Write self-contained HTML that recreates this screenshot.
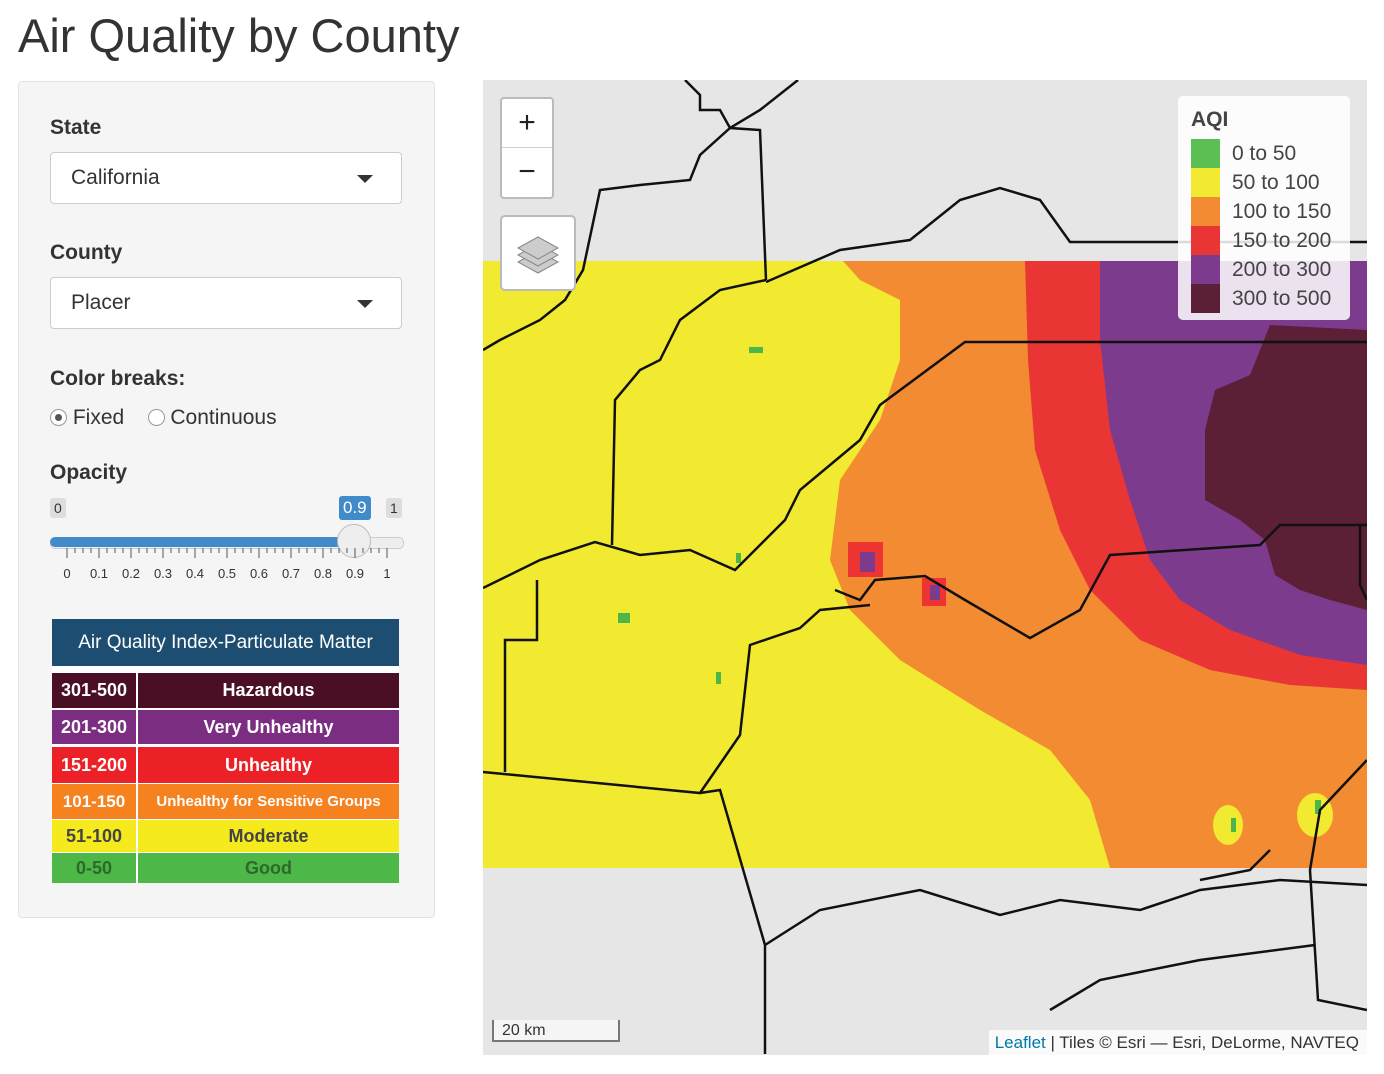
<!DOCTYPE html>
<html><head><meta charset="utf-8"><style>
body{margin:0;width:1384px;height:1074px;background:#fff;font-family:"Liberation Sans",sans-serif;position:relative;overflow:hidden}
h1{position:absolute;left:18px;top:8px;margin:0;font-weight:normal;font-size:47px;color:#333}
.panel{position:absolute;left:18px;top:81px;width:415px;height:835px;background:#f5f5f5;border:1px solid #e3e3e3;border-radius:4px}
.lbl{position:absolute;left:31px;font-size:21px;font-weight:bold;color:#333}
.sel{position:absolute;left:31px;width:350px;height:50px;background:#fff;border:1px solid #ccc;border-radius:4px;font-size:21px;color:#333;line-height:50px;text-indent:20px}
.sel:after{content:"";position:absolute;right:28px;top:22px;border-left:8px solid transparent;border-right:8px solid transparent;border-top:8px solid #333}
.tbl{position:absolute;left:33px;width:347px;color:#fff;font-weight:bold;font-size:18px}
.row{position:absolute;left:0;width:347px;display:flex}
.row div:first-child{width:84px;text-align:center;border-right:2px solid #fff}
.row div:last-child{flex:1;text-align:center}
.map{position:absolute;left:483px;top:80px;width:884px;height:975px;background:#e6e6e6;overflow:hidden}
</style></head><body>
<h1>Air Quality by County</h1>
<div class="panel">
<div class="lbl" style="top:34px">State</div>
<div class="sel" style="top:70px">California</div>
<div class="lbl" style="top:159px">County</div>
<div class="sel" style="top:195px">Placer</div>
<div class="lbl" style="top:285px">Color breaks:</div>
<div style="position:absolute;left:31px;top:324px;font-size:21px;color:#333">
<span style="display:inline-block;width:15px;height:15px;border:1px solid #999;border-radius:50%;background:#fff;vertical-align:-2px;position:relative"><span style="position:absolute;left:4px;top:4px;width:7px;height:7px;border-radius:50%;background:#555"></span></span> Fixed &nbsp;&nbsp;
<span style="display:inline-block;width:15px;height:15px;border:1px solid #999;border-radius:50%;background:#fff;vertical-align:-2px"></span> Continuous</div>
<div class="lbl" style="top:379px">Opacity</div>
<div style="position:absolute;left:31px;top:416px;background:#ddd;color:#333;font-size:14px;padding:2px 4px;border-radius:3px">0</div>
<div style="position:absolute;left:320px;top:414px;background:#428bca;color:#fff;font-size:17px;padding:2px 4px;border-radius:3px">0.9</div>
<div style="position:absolute;left:367px;top:416px;background:#ddd;color:#333;font-size:14px;padding:2px 4px;border-radius:3px">1</div>
<div style="position:absolute;left:31px;top:455px;width:352px;height:10px;border-radius:5px;background:#eee;border:1px solid #ccc"></div>
<div style="position:absolute;left:31px;top:455px;width:305px;height:10px;border-radius:5px;background:#428bca"></div>
<div style="position:absolute;left:318px;top:442px;width:32px;height:32px;border-radius:50%;background:#eee;border:1px solid #bbb"></div>
<svg style="position:absolute;left:31px;top:466px" width="360" height="40">
<g stroke="#555" stroke-width="1">
<path d="M17 0v10M49 0v10M81 0v10M113 0v10M145 0v10M177 0v10M209 0v10M241 0v10M273 0v10M305 0v10M337 0v10"/>
<path d="M25 0v5M33 0v5M41 0v5M57 0v5M65 0v5M73 0v5M89 0v5M97 0v5M105 0v5M121 0v5M129 0v5M137 0v5M153 0v5M161 0v5M169 0v5M185 0v5M193 0v5M201 0v5M217 0v5M225 0v5M233 0v5M249 0v5M257 0v5M265 0v5M281 0v5M289 0v5M297 0v5M313 0v5M321 0v5M329 0v5"/></g>
<g font-size="13" fill="#333" text-anchor="middle"><text x="17" y="30">0</text><text x="49" y="30">0.1</text><text x="81" y="30">0.2</text><text x="113" y="30">0.3</text><text x="145" y="30">0.4</text><text x="177" y="30">0.5</text><text x="209" y="30">0.6</text><text x="241" y="30">0.7</text><text x="273" y="30">0.8</text><text x="305" y="30">0.9</text><text x="337" y="30">1</text></g></svg>
<div class="tbl" style="top:537px;height:264px;background:#fff">
<div style="position:absolute;left:0;top:0;width:347px;height:47px;background:#1d4e72;line-height:47px;text-align:center;font-size:19px;font-weight:normal">Air Quality Index-Particulate Matter</div>
<div class="row" style="top:54px;height:35px;line-height:35px;background:#4a0f24"><div>301-500</div><div>Hazardous</div></div>
<div class="row" style="top:91px;height:34px;line-height:34px;background:#7b2d82"><div>201-300</div><div>Very Unhealthy</div></div>
<div class="row" style="top:128px;height:36px;line-height:36px;background:#ec2127"><div>151-200</div><div>Unhealthy</div></div>
<div class="row" style="top:165px;height:35px;line-height:35px;background:#f5821f;font-size:15px"><div style="font-size:17px">101-150</div><div>Unhealthy for Sensitive Groups</div></div>
<div class="row" style="top:201px;height:32px;line-height:32px;background:#f4ea1e;color:#444"><div>51-100</div><div>Moderate</div></div>
<div class="row" style="top:234px;height:30px;line-height:30px;background:#4db748;color:#2d6a2a"><div>0-50</div><div>Good</div></div>
</div>
</div>
<div class="map">
<svg width="884" height="975" style="position:absolute;left:0;top:0">
<g transform="translate(-483,-80)">
<rect x="483" y="261" width="884" height="607" fill="#f2e931"/>
<path d="M843 261 L1367 261 L1367 868 L1110 868 L1090 800 L1050 750 L980 710 L900 660 L850 610 L830 560 L840 480 L880 420 L900 360 L900 300 L860 280 Z" fill="#f38b32"/>
<path d="M1025 261 L1367 261 L1367 690 L1290 685 L1210 670 L1140 640 L1090 590 L1060 530 L1035 450 L1028 360 Z" fill="#ea3535"/>
<path d="M1100 261 L1367 261 L1367 665 L1300 655 L1230 630 L1180 600 L1150 560 L1130 500 L1110 430 L1100 340 Z" fill="#7d3b8e"/>
<path d="M1270 325 L1367 330 L1367 610 L1330 600 L1300 590 L1275 575 L1265 540 L1240 520 L1205 500 L1205 430 L1215 390 L1250 375 Z" fill="#5b1f36"/>
<g fill="#f2e931"><ellipse cx="1228" cy="825" rx="15" ry="20"/><ellipse cx="1315" cy="815" rx="18" ry="22"/></g>
<g fill="#e33"><rect x="848" y="542" width="35" height="35"/><rect x="922" y="578" width="24" height="28"/></g>
<g fill="#7d3b8e"><rect x="860" y="552" width="15" height="20"/><rect x="930" y="585" width="10" height="15"/></g>
<g fill="#4cb748"><rect x="618" y="613" width="12" height="10"/><rect x="749" y="347" width="14" height="6"/><rect x="736" y="553" width="5" height="10"/><rect x="716" y="672" width="5" height="12"/><rect x="1231" y="818" width="5" height="14"/><rect x="1315" y="800" width="6" height="14"/></g>
<g fill="none" stroke="#111" stroke-width="2.5">
<path d="M483 350 L500 340 L540 320 L565 300 L583 270 L600 190 L640 185 L690 180 L700 155 L730 128 L760 110 L798 80"/>
<path d="M685 80 L700 95 L700 110 L720 110 L730 128 L760 130 L766 280"/>
<path d="M766 280 L720 290 L680 320 L660 360 L640 370 L615 400 L612 545"/>
<path d="M483 588 L540 560 L595 542 L640 555 L690 550 L735 570 L785 520 L800 490 L860 440 L880 405 L965 342 L1367 342"/>
<path d="M1367 242 L1070 242 L1040 200 L1000 188 L960 200 L910 240 L840 250 L766 282"/>
<path d="M835 590 L860 600 L875 580 L925 576 L965 600 L1030 638 L1080 610 L1110 555 L1260 545 L1280 525 L1367 525"/>
<path d="M483 772 L700 793 L740 735 L750 645 L800 628 L820 610 L870 605"/>
<path d="M700 793 L720 790 L765 945 L765 1054"/>
<path d="M537 580 L537 640 L505 640 L505 772"/>
<path d="M765 945 L820 910 L920 890 L1000 915 L1060 900 L1140 910 L1200 890 L1280 880 L1367 885"/>
<path d="M1367 600 L1360 585 L1360 525"/>
<path d="M1367 760 L1320 810 L1310 870 L1318 1000 L1367 1010"/>
<path d="M1270 850 L1250 870 L1200 880"/>
<path d="M1050 1010 L1100 980 L1200 960 L1315 945"/>
</g>
</g></svg>
<div style="position:absolute;left:17px;top:17px;width:50px;height:98px;background:#fff;border:2px solid #bbb;border-radius:4px;font-size:30px;text-align:center;line-height:48px;color:#222"><div style="border-bottom:1px solid #ccc;height:48px">+</div><div>−</div></div>
<div style="position:absolute;left:17px;top:135px;width:72px;height:72px;background:#fff;border:2px solid #bbb;border-radius:5px">
<svg width="72" height="72"><g fill="#ccc" stroke="#888"><path d="M16 45 L36 34 L56 45 L36 56Z"/><path d="M16 38 L36 27 L56 38 L36 49Z"/><path d="M16 31 L36 20 L56 31 L36 42Z"/></g></svg></div>
<div style="position:absolute;left:695px;top:16px;width:172px;height:224px;background:rgba(255,255,255,0.85);border-radius:5px;font-size:21px;color:#444">
<div style="position:absolute;left:13px;top:12px;font-weight:bold;font-size:21px">AQI</div>
<div style="position:absolute;left:13px;top:43px;line-height:29px">
<div><span style="display:inline-block;width:29px;height:29px;background:#5cbf54;vertical-align:top;margin-right:12px"></span>0 to 50</div>
<div><span style="display:inline-block;width:29px;height:29px;background:#f2e931;vertical-align:top;margin-right:12px"></span>50 to 100</div>
<div><span style="display:inline-block;width:29px;height:29px;background:#f38b32;vertical-align:top;margin-right:12px"></span>100 to 150</div>
<div><span style="display:inline-block;width:29px;height:29px;background:#ea3535;vertical-align:top;margin-right:12px"></span>150 to 200</div>
<div><span style="display:inline-block;width:29px;height:29px;background:#7d3b8e;vertical-align:top;margin-right:12px"></span>200 to 300</div>
<div><span style="display:inline-block;width:29px;height:29px;background:#5b1f36;vertical-align:top;margin-right:12px"></span>300 to 500</div>
</div></div>
<div style="position:absolute;left:9px;top:940px;width:128px;height:22px;border:2px solid #777;border-top:none;background:rgba(255,255,255,0.6);font-size:16px;color:#333;padding-left:8px;box-sizing:border-box;line-height:22px">20 km</div>
<div style="position:absolute;right:0;top:950px;background:rgba(255,255,255,0.8);font-size:17px;color:#333;padding:0 8px 0 6px;height:25px;line-height:25px"><span style="color:#0078a8">Leaflet</span> | Tiles © Esri — Esri, DeLorme, NAVTEQ</div>
</div>
</body></html>
